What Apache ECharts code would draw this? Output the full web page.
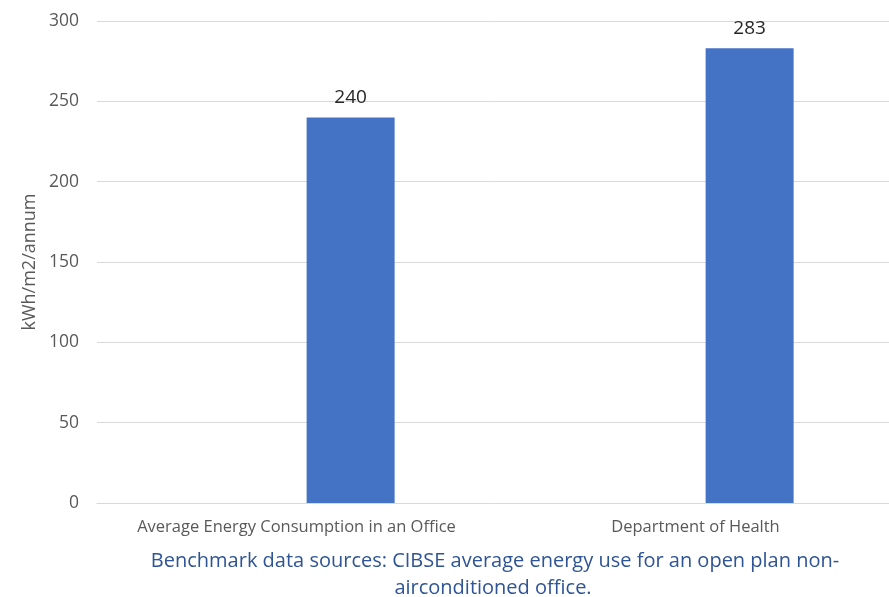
<!DOCTYPE html>
<html>
<head>
<meta charset="utf-8">
<script src="https://cdn.jsdelivr.net/npm/echarts@6/dist/echarts.min.js"></script>
<style>
  html, body { margin: 0; padding: 0; background: #fff; }
  #chart { width: 889px; height: 597px; }
</style>
</head>
<body>
<div id="chart"></div>
<script>
// chart data
const categories = ["Average Energy Consumption in an Office", "Department of Health"];
const energyUse = [240, 283];
const blankSeries = ["-", "-"]; // empty series that pushes the bars right, like the original
const yTicks = { min: 0, max: 300, interval: 50 };
const yTitle = "kWh/m2/annum";
const captionLines = [
  "Benchmark data sources: CIBSE average energy use for an open plan non-",
  "airconditioned office."
];

const chart = echarts.init(document.getElementById("chart"));

const option = {
  animation: false,
  // plot runs a little past the right edge in the original (cropped picture)
  grid: { left: 97, top: 21, width: 798, height: 482, outerBoundsMode: "none" },
  xAxis: {
    type: "category",
    data: categories,
    axisLine: { lineStyle: { color: "#D9D9D9" } },
    axisTick: { show: false },
    axisLabel: {
      color: "#595959",
      fontFamily: "Open Sans",
      fontSize: 16.5,
      margin: 16,
      interval: 0
    }
  },
  yAxis: {
    type: "value",
    min: yTicks.min,
    max: yTicks.max,
    interval: yTicks.interval,
    axisLine: { show: false },
    axisTick: { show: false },
    splitLine: { lineStyle: { color: "#D9D9D9" } },
    axisLabel: {
      color: "#595959",
      fontFamily: "Open Sans",
      fontSize: 17.5,
      margin: 18
    }
  },
  series: [
    {
      type: "bar",
      data: blankSeries,
      barWidth: 88,
      barGap: "23%"
    },
    {
      type: "bar",
      data: energyUse,
      barWidth: 88,
      itemStyle: { color: "#4472C4" },
      label: {
        show: true,
        position: "top",
        distance: 10,
        color: "#262626",
        fontFamily: "Open Sans",
        fontSize: 19
      }
    }
  ],
  graphic: [
    {
      type: "text",
      x: 30,
      y: 262,
      rotation: Math.PI / 2,
      style: {
        text: yTitle,
        fill: "#595959",
        font: "18px 'Open Sans'",
        align: "center",
        verticalAlign: "middle"
      }
    },
    {
      type: "text",
      x: 495,
      y: 561,
      style: {
        text: captionLines[0],
        fill: "#2F5496",
        font: "20px 'Open Sans'",
        align: "center",
        verticalAlign: "middle"
      }
    },
    {
      type: "text",
      x: 493,
      y: 588,
      style: {
        text: captionLines[1],
        fill: "#2F5496",
        font: "20px 'Open Sans'",
        align: "center",
        verticalAlign: "middle"
      }
    }
  ]
};

chart.setOption(option);
window.addEventListener("resize", chart.resize);
</script>
</body>
</html>
